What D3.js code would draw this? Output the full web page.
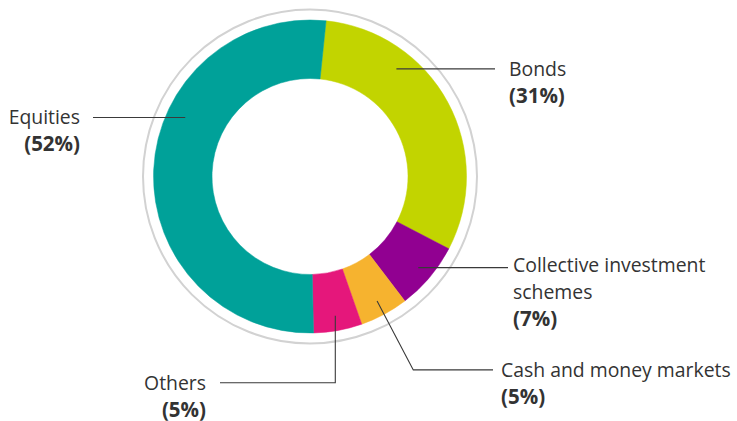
<!DOCTYPE html>
<html>
<head>
<meta charset="utf-8">
<script src="https://cdn.jsdelivr.net/npm/d3@7"></script>
<style>
  html, body { margin: 0; padding: 0; background: #fff; }
  svg { display: block; font-family: "Open Sans", "Noto Sans", sans-serif; }
</style>
</head>
<body>
<svg id="chart" width="737" height="421"></svg>
<script>
// Asset allocation, in drawing order (clockwise from just right of 12 o'clock)
const categories = ["Bonds", "Collective investment schemes", "Cash and money markets", "Others", "Equities"];
const shares = [31, 7, 5, 5, 52];
const labelLines = [["Bonds"], ["Collective investment", "schemes"], ["Cash and money markets"], ["Others"], ["Equities"]];
const colors = ["#c2d400", "#910091", "#f6b32f", "#e5177b", "#00a199"];

const svg = d3.select("#chart");
const cx = 310, cy = 176.5;
const rOuter = 156.5, rInner = 98, rRing = 167;
const startOffset = 5.9 * Math.PI / 180;

const g = svg.append("g").attr("transform", `translate(${cx},${cy})`);

// thin grey ring around the donut
g.append("circle").attr("r", rRing)
  .attr("fill", "none").attr("stroke", "#d2d2d2").attr("stroke-width", 2);

const pie = d3.pie().sort(null).value(d => d)
  .startAngle(startOffset).endAngle(startOffset + 2 * Math.PI);
const arcs = pie(shares);
const arc = d3.arc().innerRadius(rInner).outerRadius(rOuter);

g.selectAll("path.slice").data(arcs).join("path")
  .attr("class", "slice")
  .attr("d", arc)
  .attr("fill", (d, i) => colors[i])
  .attr("stroke", (d, i) => colors[i])
  .attr("stroke-width", 0.5);

// label placement: side, text x, first baseline, leader end x, leader style
const lineGap = 27;
const layout = [
  { anchor: "start", tx: 509, ty: 75.7, lx: 495, mode: "horizontal" },
  { anchor: "start", tx: 513, ty: 272.3, lx: 508, mode: "centroid" },
  { anchor: "start", tx: 501, ty: 376.7, lx: 493, mode: "elbowDiag" },
  { anchor: "end", tx: 206, ty: 389.5, lx: 220, mode: "elbowDown" },
  { anchor: "end", tx: 80, ty: 124.3, lx: 93, mode: "horizontal" }
];
const rAnchor = 141.5;
const polar = (a, r) => [r * Math.sin(a), -r * Math.cos(a)];

const leaders = svg.append("g").attr("fill", "none")
  .attr("stroke", "#3a3a3a").attr("stroke-width", 1.1);

arcs.forEach((d, i) => {
  const L = layout[i];
  const ly = L.ty - 6.8;
  const mid = (d.startAngle + d.endAngle) / 2;
  let pts;
  if (L.mode === "horizontal") {
    const dy = ly - cy;
    const dx = Math.sqrt(138 * 138 - dy * dy) * (L.anchor === "start" ? 1 : -1);
    pts = [[cx + dx, ly], [L.lx, ly]];
  } else {
    const [px, py] = polar(mid, rAnchor);
    const ax = cx + px, ay = cy + py;
    if (L.mode === "centroid") {
      pts = [[ax, ay], [L.lx, ay]];
    } else if (L.mode === "elbowDiag") {
      pts = [[ax, ay], [413.3, ly], [L.lx, ly]];
    } else {
      pts = [[ax, ay], [ax, ly], [L.lx, ly]];
    }
  }
  leaders.append("path").attr("d", d3.line()(pts));

  const t = svg.append("text")
    .attr("x", L.tx).attr("y", L.ty)
    .attr("text-anchor", L.anchor)
    .attr("fill", "#333")
    .attr("font-size", 19.4);
  const lines = labelLines[i];
  lines.forEach((s, k) => {
    t.append("tspan").attr("x", L.tx).attr("y", L.ty + k * lineGap).text(s);
  });
  t.append("tspan").attr("x", L.tx).attr("y", L.ty + lines.length * lineGap)
    .attr("font-weight", 700).attr("font-size", 20.5).text(`(${shares[i]}%)`);
});
</script>
</body>
</html>
